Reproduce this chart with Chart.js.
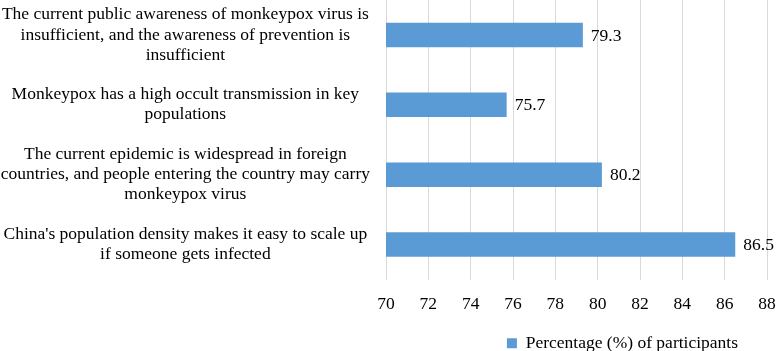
<!DOCTYPE html>
<html>
<head>
<meta charset="utf-8">
<script src="https://cdn.jsdelivr.net/npm/chart.js@4"></script>
<style>
  body { margin: 0; background: #fff; }
</style>
</head>
<body>
<canvas id="reasonsChart" width="776" height="351"></canvas>
<script>
// categories, one array of lines per bar
const categories = [
    ['The current public awareness of monkeypox virus is', 'insufficient, and the awareness of prevention is', 'insufficient'],
    ['Monkeypox has a high occult transmission in key', 'populations'],
    ['The current epidemic is widespread in foreign', 'countries, and people entering the country may carry', 'monkeypox virus'],
    ["China's population density makes it easy to scale up", 'if someone gets infected']
];
const percentages = [79.3, 75.7, 80.2, 86.5];
const seriesName = 'Percentage (%) of participants';
const xMin = 70, xMax = 88, xStep = 2;

const serif = '"Liberation Serif", "Times New Roman", serif';
const fontSize = 17.5;

// value labels right of each bar
const valueLabels = {
    id: 'valueLabels',
    afterDatasetsDraw(chart) {
        const c = chart.ctx;
        c.save();
        c.font = fontSize + 'px ' + serif;
        c.fillStyle = '#000';
        c.textBaseline = 'middle';
        c.textAlign = 'left';
        chart.getDatasetMeta(0).data.forEach((bar, i) => {
            c.fillText(percentages[i].toFixed(1), bar.x + 8, bar.y + 1);
        });
        c.restore();
    }
};

// nudge the legend like the original
const legendShift = {
    id: 'legendShift',
    afterLayout(chart) {
        const lg = chart.legend;
        lg.left -= 36;
        lg.right -= 36;
        lg.top += 11;
        lg.bottom += 11;
    }
};

new Chart(document.getElementById('reasonsChart'), {
    type: 'bar',
    data: {
        labels: categories,
        datasets: [{
            label: seriesName,
            data: percentages,
            backgroundColor: '#5B9BD5',
            borderWidth: 0,
            categoryPercentage: 1,
            barPercentage: 0.35
        }]
    },
    options: {
        indexAxis: 'y',
        responsive: false,
        animation: false,
        events: [],
        layout: { padding: 0 },
        scales: {
            x: {
                min: xMin,
                max: xMax,
                ticks: { stepSize: xStep, padding: 14, color: '#000', font: { family: serif, size: fontSize } },
                grid: { color: '#d9d9d9', drawTicks: false },
                border: { display: false },
                afterFit: s => { s.height = 42; s.paddingLeft = 0; s.paddingRight = 9; }
            },
            y: {
                ticks: {
                    crossAlign: 'center',
                    padding: 16,
                    color: '#000',
                    font: { family: serif, size: fontSize, lineHeight: 1.15 }
                },
                grid: { display: false, drawTicks: false },
                border: { display: false },
                afterFit: s => { s.width = 386; s.paddingTop = 0; s.paddingBottom = 0; }
            }
        },
        plugins: {
            legend: {
                position: 'bottom',
                align: 'end',
                labels: {
                    boxWidth: 10,
                    boxHeight: 10,
                    padding: 2,
                    color: '#000',
                    font: { family: serif, size: fontSize }
                }
            },
            tooltip: { enabled: false }
        }
    },
    plugins: [valueLabels, legendShift]
});
</script>
</body>
</html>
